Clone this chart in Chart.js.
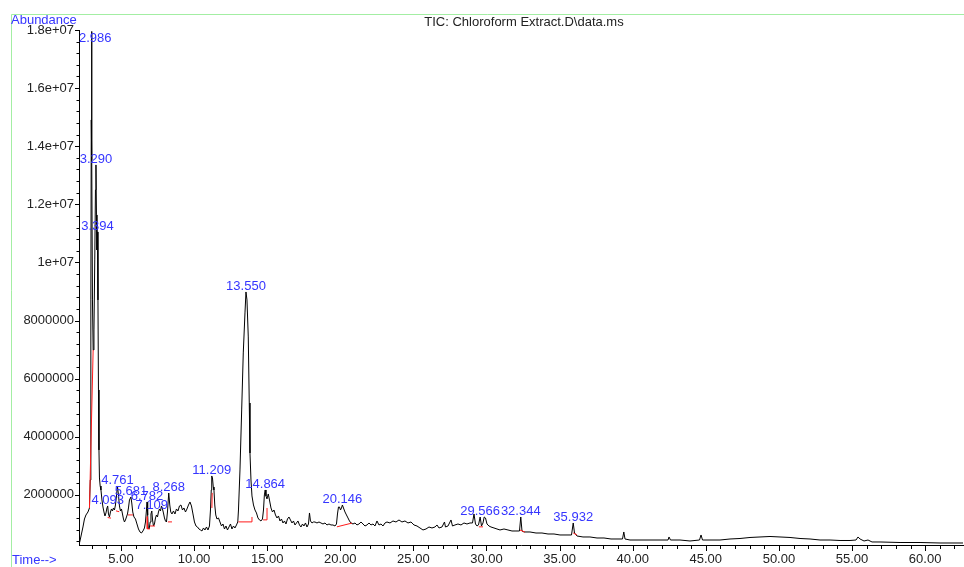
<!DOCTYPE html>
<html>
<head>
<meta charset="utf-8">
<title>TIC: Chloroform Extract.D\data.ms</title>
<script src="https://cdn.jsdelivr.net/npm/chart.js@4.4.1/dist/chart.umd.min.js"></script>
<style>
  html, body { margin: 0; padding: 0; background: #ffffff; }
  canvas { display: block; }
</style>
</head>
<body>
<canvas id="tic" width="964" height="567"></canvas>
<script>
// Total ion chromatogram: retention time (min) and abundance
const retentionMin = [
  2.127, 2.196, 2.298, 2.401, 2.503, 2.606, 2.743, 2.845, 2.900, 2.941, 2.969, 2.986, 3.016, 3.051, 3.098,
  3.153, 3.208, 3.256, 3.290, 3.324, 3.358, 3.394, 3.427, 3.461, 3.495, 3.529, 3.577, 3.632, 3.700, 3.769,
  3.837, 3.906, 3.974, 4.042, 4.093, 4.145, 4.213, 4.282, 4.350, 4.419, 4.487, 4.555, 4.624, 4.692, 4.761,
  4.829, 4.897, 4.966, 5.034, 5.103, 5.171, 5.239, 5.308, 5.376, 5.445, 5.513, 5.581, 5.681, 5.739, 5.807,
  5.889, 5.992, 6.094, 6.197, 6.300, 6.402, 6.505, 6.607, 6.676, 6.744, 6.782, 6.826, 6.867, 6.929, 6.997,
  7.052, 7.109, 7.161, 7.223, 7.291, 7.360, 7.428, 7.497, 7.565, 7.633, 7.702, 7.770, 7.839, 7.907, 7.975,
  8.044, 8.112, 8.181, 8.268, 8.338, 8.406, 8.488, 8.591, 8.693, 8.796, 8.899, 9.001, 9.104, 9.207, 9.309,
  9.412, 9.514, 9.617, 9.720, 9.822, 9.925, 10.027, 10.130, 10.233, 10.335, 10.438, 10.540, 10.643, 10.746, 10.848,
  10.951, 11.053, 11.122, 11.176, 11.209, 11.259, 11.313, 11.361, 11.416, 11.484, 11.566, 11.669, 11.772, 11.874, 11.977,
  12.079, 12.182, 12.285, 12.387, 12.490, 12.592, 12.695, 12.797, 12.900, 12.989, 13.037, 13.140, 13.256, 13.365, 13.482,
  13.550, 13.618, 13.707, 13.775, 13.824, 13.892, 13.960, 14.063, 14.166, 14.268, 14.371, 14.473, 14.576, 14.679, 14.747,
  14.809, 14.864, 14.918, 14.986, 15.075, 15.157, 15.260, 15.363, 15.465, 15.568, 15.670, 15.773, 15.876, 15.978, 16.081,
  16.183, 16.286, 16.389, 16.491, 16.594, 16.696, 16.799, 16.902, 17.004, 17.107, 17.209, 17.312, 17.415, 17.517, 17.620,
  17.722, 17.825, 17.893, 17.962, 18.064, 18.167, 18.269, 18.406, 18.543, 18.680, 18.817, 18.954, 19.090, 19.227, 19.364,
  19.501, 19.638, 19.740, 19.808, 19.877, 19.945, 20.014, 20.082, 20.146, 20.219, 20.322, 20.424, 20.527, 20.629, 20.732,
  20.869, 21.006, 21.142, 21.279, 21.416, 21.553, 21.690, 21.826, 21.963, 22.100, 22.237, 22.374, 22.510, 22.647, 22.784,
  22.921, 23.057, 23.194, 23.400, 23.605, 23.810, 24.015, 24.220, 24.425, 24.631, 24.836, 25.041, 25.246, 25.451, 25.657,
  25.862, 26.067, 26.272, 26.477, 26.614, 26.751, 26.956, 27.127, 27.195, 27.367, 27.572, 27.674, 27.845, 28.050, 28.256,
  28.461, 28.666, 28.871, 29.042, 29.145, 29.248, 29.350, 29.453, 29.566, 29.658, 29.761, 29.843, 29.932, 30.034, 30.171,
  30.308, 30.513, 30.718, 30.923, 31.197, 31.470, 31.744, 32.018, 32.257, 32.344, 32.428, 32.565, 32.975, 33.386, 33.796,
  34.207, 34.617, 35.027, 35.438, 35.814, 35.932, 36.019, 36.190, 36.600, 37.079, 37.558, 38.037, 38.516, 38.995, 39.302,
  39.391, 39.473, 39.815, 40.499, 41.183, 41.867, 42.415, 42.483, 42.585, 43.235, 43.919, 44.569, 44.672, 44.774, 45.287,
  45.971, 46.655, 47.339, 48.023, 48.707, 49.391, 50.075, 50.759, 51.443, 52.127, 52.811, 53.495, 54.179, 54.863, 55.274,
  55.410, 55.547, 55.821, 56.094, 56.368, 56.916, 58.284, 59.652, 61.019, 62.592
];

const abundance = [
  275000, 413000, 654000, 895000, 1170000, 1308000, 1411000, 1549000, 2513000, 8709000, 14905000, 17950000, 13528000, 8709000, 6988000,
  7676000, 10086000, 12496000, 13356000, 11635000, 10430000, 11050000, 8709000, 5611000, 3546000, 2582000, 2306000, 2169000, 1824000, 1583000,
  1411000, 1274000, 1377000, 1549000, 1618000, 1342000, 1239000, 1411000, 1515000, 1446000, 1549000, 1480000, 1652000, 1962000, 2306000,
  1997000, 1618000, 1446000, 1515000, 1342000, 1170000, 1067000, 1136000, 1239000, 1342000, 1549000, 1824000, 1928000, 1721000, 1411000,
  1239000, 1170000, 998000, 826000, 723000, 688000, 757000, 861000, 1067000, 1480000, 1756000, 1308000, 861000, 826000, 1067000,
  1342000, 1446000, 1136000, 929000, 998000, 1205000, 1308000, 1239000, 1411000, 1515000, 1446000, 1618000, 1515000, 1377000, 1205000,
  1102000, 1067000, 1411000, 2065000, 1652000, 1411000, 1342000, 1446000, 1342000, 1515000, 1446000, 1618000, 1652000, 1480000, 1549000,
  1411000, 1515000, 1652000, 1756000, 1618000, 1342000, 1067000, 929000, 895000, 826000, 792000, 757000, 861000, 792000, 895000,
  792000, 929000, 1480000, 2169000, 2651000, 2582000, 2272000, 2169000, 1652000, 1308000, 1170000, 1205000, 1067000, 929000, 998000,
  826000, 929000, 792000, 895000, 998000, 826000, 929000, 861000, 964000, 1067000, 1480000, 2857000, 4922000, 6885000, 8262000,
  8984000, 8709000, 7435000, 5163000, 3442000, 2513000, 1962000, 1652000, 1480000, 1377000, 1205000, 1136000, 1102000, 1170000, 1480000,
  1997000, 2169000, 1962000, 1859000, 2031000, 1824000, 1549000, 1411000, 1480000, 1308000, 1205000, 1274000, 1102000, 1170000, 1033000,
  1102000, 998000, 1170000, 1239000, 1136000, 1033000, 1102000, 964000, 1033000, 1102000, 964000, 895000, 998000, 929000, 1033000,
  895000, 998000, 1377000, 1102000, 1033000, 1067000, 1067000, 1033000, 1067000, 1033000, 998000, 1033000, 964000, 998000, 964000,
  964000, 929000, 998000, 1342000, 1583000, 1583000, 1480000, 1549000, 1652000, 1549000, 1411000, 1308000, 1205000, 1102000, 1033000,
  998000, 1033000, 964000, 998000, 1067000, 998000, 929000, 964000, 1033000, 964000, 998000, 929000, 1102000, 964000, 998000,
  929000, 1033000, 1067000, 1033000, 1102000, 1067000, 1136000, 1067000, 1102000, 1033000, 1067000, 964000, 929000, 861000, 792000,
  826000, 895000, 861000, 895000, 964000, 861000, 895000, 1067000, 895000, 929000, 1136000, 929000, 964000, 998000, 964000,
  1033000, 998000, 1033000, 1033000, 1342000, 998000, 929000, 964000, 1239000, 929000, 1033000, 1239000, 1205000, 998000, 929000,
  895000, 861000, 826000, 792000, 826000, 792000, 757000, 757000, 757000, 1239000, 757000, 723000, 723000, 688000, 688000,
  654000, 654000, 620000, 620000, 620000, 1033000, 688000, 585000, 551000, 551000, 516000, 516000, 482000, 482000, 482000,
  723000, 482000, 447000, 447000, 447000, 447000, 447000, 551000, 447000, 447000, 413000, 447000, 620000, 447000, 447000,
  447000, 482000, 499000, 534000, 551000, 568000, 551000, 534000, 499000, 482000, 447000, 447000, 430000, 430000, 447000,
  551000, 482000, 413000, 447000, 379000, 379000, 361000, 361000, 344000, 344000
];

// Integrated peaks (retention times printed above each apex)
const peakTimes = [2.986, 3.290, 3.394, 4.093, 4.761, 5.681, 6.782, 7.109, 8.268, 11.209, 13.550, 14.864, 20.146, 29.566, 32.344, 35.932];

// Integration baselines: time and abundance of each segment's vertices
const baselineTimes = [
  [2.845, 3.098], [4.09, 4.32], [4.66, 4.88], [5.48, 5.82], [6.80, 6.80, 6.98], [6.99, 7.33], [8.21, 8.49],
  [11.22, 11.24], [13.03, 13.96, 13.96], [14.72, 14.99, 14.99], [19.77, 20.80], [29.48, 29.76], [32.29, 32.63], [35.93, 36.19]
];
const baselineLevels = [
  [1549000, 6988000], [1220000, 1200000], [1450000, 1420000], [1310000, 1310000], [1250000, 830000, 830000], [930000, 930000], [1070000, 1070000],
  [1550000, 2070000], [1070000, 1070000, 1240000], [1140000, 1140000, 1550000], [900000, 1030000], [900000, 900000], [790000, 720000], [690000, 620000]
];

// Axis tick marks with labels
const timeTicks = [5, 10, 15, 20, 25, 30, 35, 40, 45, 50, 55, 60];
const abundanceTicks = [2000000, 4000000, 6000000, 8000000, 10000000, 12000000, 14000000, 16000000, 18000000];

const FONT = "'Liberation Sans', Arial, Helvetica, sans-serif";
const LABEL_BLUE = '#3535ff';

const traceData = retentionMin.map((t, i) => ({ x: t, y: abundance[i] }));
const baselineSets = baselineTimes.map((ts, k) => ({
  data: ts.map((t, j) => ({ x: t, y: baselineLevels[k][j] })),
  borderColor: '#ff1a1a',
  borderWidth: 1,
  pointRadius: 0,
  tension: 0,
  order: 0
}));

function formatAbundance(v) {
  if (v >= 10000000) return v.toExponential().replace(/e\+(\d)$/, 'e+0$1');
  return String(v);
}

// Frame, header texts, minor/major tick marks and peak annotations
const chromatogramDecor = {
  id: 'chromatogramDecor',
  afterDraw(chart) {
    const { ctx, chartArea: a, scales } = chart;
    const xs = scales.x, ys = scales.y;
    ctx.save();

    // light green frame
    ctx.strokeStyle = '#a3eea3';
    ctx.lineWidth = 1;
    ctx.beginPath();
    ctx.moveTo(11.5, chart.height);
    ctx.lineTo(11.5, 14.5);
    ctx.lineTo(chart.width, 14.5);
    ctx.stroke();

    // tick marks
    ctx.strokeStyle = '#000';
    ctx.beginPath();
    for (let t = Math.ceil(xs.min); t <= xs.max; t++) {
      const px = Math.round(xs.getPixelForValue(t)) + 0.5;
      const len = t % 5 === 0 ? 6 : 4;
      ctx.moveTo(px, a.bottom);
      ctx.lineTo(px, a.bottom + len);
    }
    for (let v = 400000; v <= ys.max + 1; v += 400000) {
      if (v < ys.min) continue;
      const py = Math.round(ys.getPixelForValue(v)) + 0.5;
      const len = v % 2000000 === 0 ? 4 : 2.5;
      ctx.moveTo(a.left - len, py);
      ctx.lineTo(a.left, py);
    }
    ctx.stroke();

    // header texts
    ctx.font = '13px ' + FONT;
    ctx.textBaseline = 'alphabetic';
    ctx.fillStyle = LABEL_BLUE;
    ctx.textAlign = 'left';
    ctx.fillText('Abundance', 11, 24);
    ctx.fillText('Time-->', 12, 564);
    ctx.fillStyle = '#222';
    ctx.textAlign = 'center';
    ctx.fillText('TIC: Chloroform Extract.D\\data.ms', 524, 26);

    // peak retention-time labels
    ctx.fillStyle = LABEL_BLUE;
    peakTimes.forEach(pt => {
      let best = 0;
      retentionMin.forEach((t, i) => {
        if (Math.abs(t - pt) < Math.abs(retentionMin[best] - pt)) best = i;
      });
      const text = pt.toFixed(3);
      const w = ctx.measureText(text).width;
      let cx = xs.getPixelForValue(pt);
      if (cx - w / 2 < a.left) cx = a.left + w / 2;
      const py = Math.max(ys.getPixelForValue(abundance[best]) - 2, a.top + 12);
      ctx.fillText(text, cx, py);
    });
    ctx.restore();
  }
};

new Chart(document.getElementById('tic'), {
  type: 'line',
  data: {
    datasets: [
      {
        data: traceData,
        borderColor: '#000',
        borderWidth: 1,
        pointRadius: 0,
        tension: 0,
        order: 1
      },
      ...baselineSets
    ]
  },
  options: {
    responsive: false,
    animation: false,
    devicePixelRatio: 1,
    parsing: true,
    layout: { padding: { left: 0, right: 1, top: 30, bottom: 0 } },
    plugins: { legend: { display: false }, tooltip: { enabled: false }, title: { display: false } },
    scales: {
      x: {
        type: 'linear',
        min: 2.13,
        max: 62.59,
        afterFit: s => { s.height = 22; },
        afterBuildTicks: s => { s.ticks = timeTicks.map(v => ({ value: v })); },
        border: { display: true, color: '#000', width: 1 },
        grid: { display: true, drawOnChartArea: false, drawTicks: false },
        ticks: {
          padding: 7,
          maxRotation: 0,
          autoSkip: false,
          color: '#222',
          font: { family: FONT, size: 13 },
          callback: v => Number(v).toFixed(2)
        }
      },
      y: {
        type: 'linear',
        min: 275000,
        max: 18000000,
        afterFit: s => { s.width = 79; },
        afterBuildTicks: s => { s.ticks = abundanceTicks.map(v => ({ value: v })); },
        border: { display: true, color: '#000', width: 1 },
        grid: { display: true, drawOnChartArea: false, drawTicks: false },
        ticks: {
          padding: 5,
          autoSkip: false,
          color: '#222',
          font: { family: FONT, size: 13 },
          callback: v => formatAbundance(v)
        }
      }
    }
  },
  plugins: [chromatogramDecor]
});
</script>
</body>
</html>
